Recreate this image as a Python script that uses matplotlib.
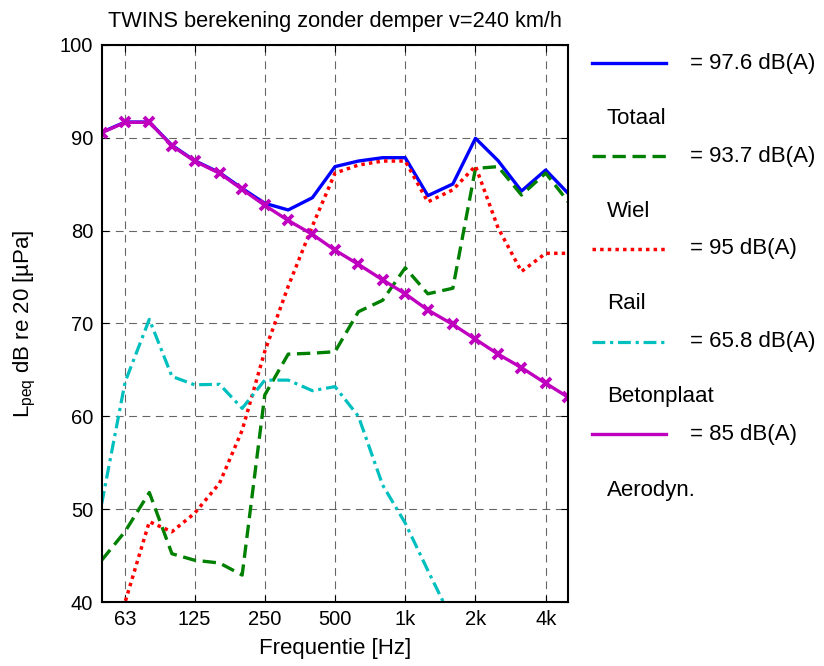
import matplotlib
matplotlib.use('Agg')
import matplotlib.pyplot as plt
from matplotlib.lines import Line2D

plt.rcParams['font.family'] = ['Liberation Sans', 'DejaVu Sans']
plt.rcParams['mathtext.fontset'] = 'custom'
plt.rcParams['mathtext.rm'] = 'Liberation Sans'
plt.rcParams['mathtext.it'] = 'Liberation Sans'

# ─── Data (third-octave bands) ────────────────────────────────────────────────
freqs = [50, 63, 80, 100, 125, 160, 200, 250, 315, 400, 500, 630, 800,
         1000, 1250, 1600, 2000, 2500, 3150, 4000, 5000]

totaal = [90.6, 91.7, 91.7, 89.2, 87.55, 86.25, 84.55, 82.95, 82.23, 83.55,
          86.9, 87.5, 87.86, 87.86, 83.77, 85.03, 89.95, 87.54, 84.27, 86.53, 84.0]
wiel = [44.5, 47.6, 51.8, 45.2, 44.5, 44.2, 42.9, 62.3, 66.7, 66.8, 66.96,
        71.27, 72.5, 76.0, 73.2, 73.8, 86.7, 86.9, 83.84, 86.2, 83.1]
rail = [31.0, 40.0, 48.65, 47.57, 49.55, 52.8, 58.5, 67.0, 74.0, 80.5, 86.2,
        87.07, 87.5, 87.5, 83.1, 84.4, 86.97, 80.3, 75.6, 77.56, 77.56]
beton = [50.6, 63.7, 70.45, 64.3, 63.4, 63.45, 60.86, 63.9, 63.9, 62.76, 63.2,
         60.0, 52.6, 48.5, 43.4, 37.9, 35.0, 32.0, 29.0, 26.0, 23.0]
aero = [90.55, 91.67, 91.67, 89.15, 87.5, 86.18, 84.45, 82.73, 81.1, 79.6,
        77.9, 76.37, 74.7, 73.2, 71.45, 69.9, 68.3, 66.7, 65.24, 63.56, 62.05]

xticks = [63, 125, 250, 500, 1000, 2000, 4000]
xticklabels = ['63', '125', '250', '500', '1k', '2k', '4k']

legend_vals = ['= 97.6 dB(A)', '= 93.7 dB(A)', '= 95 dB(A)', '= 65.8 dB(A)', '= 85 dB(A)']
legend_names = ['Totaal', 'Wiel', 'Rail', 'Betonplaat', 'Aerodyn.']

C_BLUE = '#0000ff'
C_GREEN = '#008000'
C_RED = '#ff0000'
C_CYAN = '#00bfbf'
C_MAG = '#bf00bf'
FS = 16       # labels / legend
FS_TICK = 14.5

W, H = 824, 666
fig = plt.figure(figsize=(W / 100, H / 100), dpi=100)
ax = fig.add_axes([101.7 / W, 1 - 602 / H, (568.3 - 101.7) / W, (602 - 45) / H])

styles = [
    (totaal, dict(color=C_BLUE, ls='-', lw=2.4)),
    (wiel, dict(color=C_GREEN, ls=(0, (4, 2)), lw=2.4)),
    (rail, dict(color=C_RED, ls=(0, (1, 1.2)), lw=2.5)),
    (beton, dict(color=C_CYAN, ls=(0, (4, 1.5, 1, 1.5)), lw=2.3)),
    (aero, dict(color=C_MAG, ls='-', lw=2.4, marker='x', ms=7, mew=2.8)),
]
for vals, st in styles:
    ax.plot(freqs, vals, **st)

ax.set_xscale('log')
ax.set_xlim(50, 5000)
ax.set_ylim(40, 100)
ax.set_xticks(xticks)
ax.set_xticklabels(xticklabels)
ax.xaxis.set_minor_locator(matplotlib.ticker.NullLocator())
ax.set_yticks(range(40, 101, 10))
ax.tick_params(direction='in', labelsize=FS_TICK, length=5, top=True, right=True, pad=6)
ax.grid(True, color='black', ls=(0, (7, 5)), lw=0.8, alpha=0.6)
for s in ax.spines.values():
    s.set_linewidth(1.5)

ax.set_title('TWINS berekening zonder demper v=240 km/h', fontsize=15.7, pad=13)
ax.set_xlabel('Frequentie [Hz]', fontsize=FS, labelpad=6)
ax.set_ylabel(r'L$_{\mathrm{peq}}$ dB re 20 [µPa]', fontsize=FS, labelpad=16)

# ─── Manual legend ────────────────────────────────────────────────────────────
line_y = [63.3, 156, 249, 341.7, 434.3]
name_y = [118.3, 211.7, 304, 396.7, 490.7]
for (vals, st), ly, val in zip(styles, line_y, legend_vals):
    kw = {k: v for k, v in st.items() if k not in ('marker', 'ms', 'mew')}
    fig.add_artist(Line2D([592 / W, 666 / W], [1 - ly / H, 1 - ly / H],
                          transform=fig.transFigure, **kw))
    fig.text(690 / W, 1 - ly / H, val, fontsize=FS, va='center', ha='left')
for ny, name in zip(name_y, legend_names):
    fig.text(606.7 / W, 1 - ny / H, name, fontsize=FS, va='center', ha='left')

fig.savefig('out.png', dpi=100, facecolor='white')
